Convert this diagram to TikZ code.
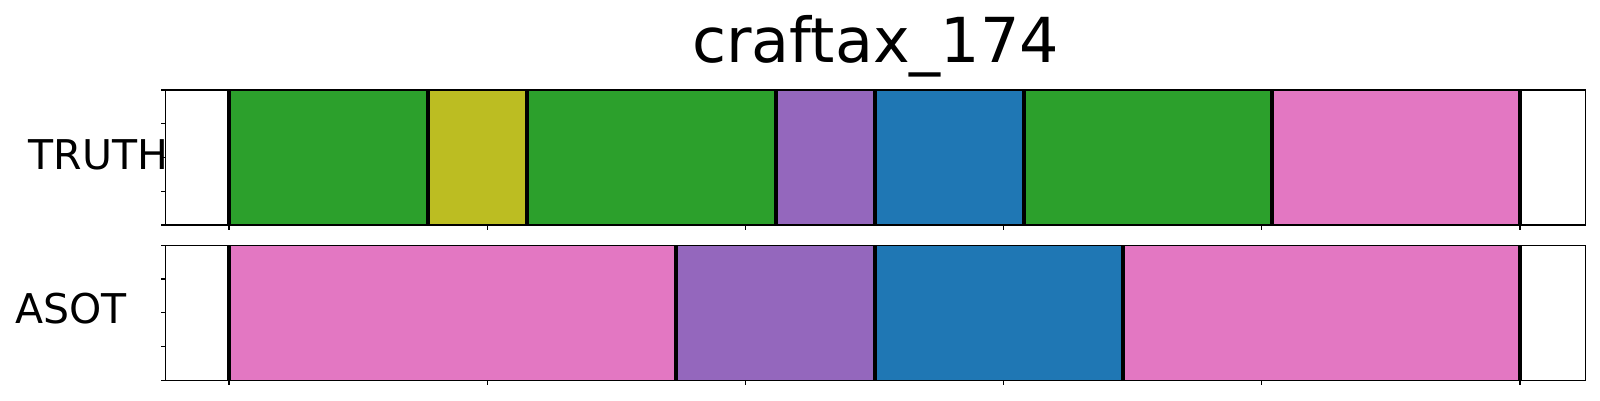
\documentclass[tikz,border=0pt]{standalone}
\usepackage{fontspec}
\setmainfont{DejaVu Sans}
\definecolor{tabgreen}{HTML}{2CA02C}
\definecolor{tabolive}{HTML}{BCBD22}
\definecolor{tabpurple}{HTML}{9467BD}
\definecolor{tabblue}{HTML}{1F77B4}
\definecolor{tabpink}{HTML}{E377C2}
\tikzset{
  seg/.style={fill=#1, draw=#1!85!black, line width=0.8pt},
  sep/.style={line width=4pt, black},
  frame/.style={line width=1.5pt, black},
  tick/.style={line width=1.2pt, black},
  lab/.style={inner sep=0pt, font=\fontsize{41}{41}\selectfont},
}
\begin{document}
\begin{tikzpicture}[x=1pt, y=-1pt]
\useasboundingbox (0,0) rectangle (1600,400);
% title and row labels
\node[inner sep=0pt, anchor=base, font=\fontsize{62}{62}\selectfont] (title) at (875.7,62) {craftax\_174};
\node[lab, anchor=base west] (truth) at (28.6,169) {TRUTH};
\node[lab, anchor=base west] (asot) at (15,323.3) {ASOT};
% TRUTH row
\fill[seg=tabgreen] (229,90) rectangle (428,225);
\fill[seg=tabolive] (428,90) rectangle (527.3,225);
\fill[seg=tabgreen] (527.3,90) rectangle (776,225);
\fill[seg=tabpurple] (776,90) rectangle (875,225);
\fill[seg=tabblue] (875,90) rectangle (1024,225);
\fill[seg=tabgreen] (1024,90) rectangle (1271.7,225);
\fill[seg=tabpink] (1271.7,90) rectangle (1520,225);
\draw[sep] (229,90) -- (229,225) (428,90) -- (428,225) (527.3,90) -- (527.3,225) (776,90) -- (776,225);
\draw[sep] (875,90) -- (875,225) (1024,90) -- (1024,225) (1271.7,90) -- (1271.7,225) (1520,90) -- (1520,225);
\draw[frame] (165.7,90) rectangle (1585.7,225);
% ASOT row
\fill[seg=tabpink] (229,245.3) rectangle (675.8,380.3);
\fill[seg=tabpurple] (675.8,245.3) rectangle (875,380.3);
\fill[seg=tabblue] (875,245.3) rectangle (1123,380.3);
\fill[seg=tabpink] (1123,245.3) rectangle (1520,380.3);
\draw[sep] (229,245.3) -- (229,380.3) (675.8,245.3) -- (675.8,380.3) (875,245.3) -- (875,380.3);
\draw[sep] (1123,245.3) -- (1123,380.3) (1520,245.3) -- (1520,380.3);
\draw[frame] (165.7,245.3) rectangle (1585.7,380.3);
% ticks
\draw[tick] (165.7,90) -- ++(-5,0) (165.7,123.75) -- ++(-5,0) (165.7,157.5) -- ++(-5,0) (165.7,191.25) -- ++(-5,0) (165.7,225) -- ++(-5,0);
\draw[tick] (165.7,245.3) -- ++(-5,0) (165.7,279.05) -- ++(-5,0) (165.7,312.8) -- ++(-5,0) (165.7,346.55) -- ++(-5,0) (165.7,380.3) -- ++(-5,0);
\draw[tick] (229,225) -- ++(0,5) (487.2,225) -- ++(0,5) (745.4,225) -- ++(0,5) (1003.6,225) -- ++(0,5) (1261.8,225) -- ++(0,5) (1520,225) -- ++(0,5);
\draw[tick] (229,380.3) -- ++(0,5) (487.2,380.3) -- ++(0,5) (745.4,380.3) -- ++(0,5) (1003.6,380.3) -- ++(0,5) (1261.8,380.3) -- ++(0,5) (1520,380.3) -- ++(0,5);
\end{tikzpicture}
\end{document}
